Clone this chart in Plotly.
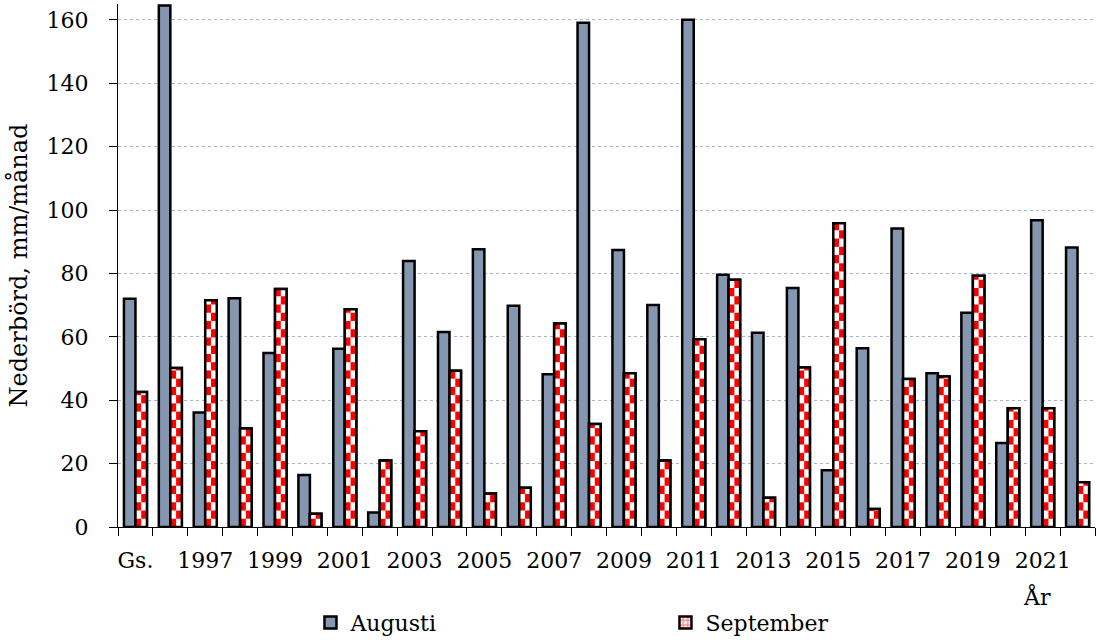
import plotly.graph_objects as go

# Monthly precipitation (mm) for August and September; "Gs." is the long-term mean
years = ["Gs.", "1996", "1997", "1998", "1999", "2000", "2001", "2002", "2003",
         "2004", "2005", "2006", "2007", "2008", "2009", "2010", "2011", "2012",
         "2013", "2014", "2015", "2016", "2017", "2018", "2019", "2020", "2021",
         "2022"]
augusti = [72.0, 164.5, 36.1, 72.2, 54.9, 16.4, 56.2, 4.6, 83.9, 61.5, 87.6,
           69.8, 48.2, 159.1, 87.4, 70.0, 160.0, 79.6, 61.3, 75.4, 17.9, 56.4,
           94.2, 48.5, 67.6, 26.5, 96.8, 88.2]
september = [42.6, 50.2, 71.5, 31.1, 75.1, 4.2, 68.7, 21.0, 30.2, 49.3, 10.6,
             12.4, 64.2, 32.5, 48.5, 21.0, 59.2, 78.0, 9.2, 50.3, 95.8, 5.7,
             46.7, 47.5, 79.3, 37.5, 37.5, 14.1]
tick_labels = [y if i % 2 == 0 else "" for i, y in enumerate(years)]
y_ticks = [0, 20, 40, 60, 80, 100, 120, 140, 160]

FONT = "DejaVu Serif"
AUG_COLOR = "#8496B0"
RED = "#FF0000"
BAR_W = 0.33          # bar width in category units
LINE_W = 2.5
CHECK_H = 2.6         # checker block height in data units

# red/white checkerboard blocks for the September bars (two columns per bar)
cols = {0: {"x": [], "base": [], "h": []}, 1: {"x": [], "base": [], "h": []}}
for yr, v in zip(years, september):
    k = 0
    while k * CHECK_H < v:
        lo = k * CHECK_H
        hi = min((k + 1) * CHECK_H, v)
        c = k % 2
        cols[c]["x"].append(yr)
        cols[c]["base"].append(lo)
        cols[c]["h"].append(hi - lo)
        k += 1

fig = go.Figure()

fig.add_trace(go.Bar(
    x=years, y=augusti, name="Augusti",
    width=BAR_W, offset=-BAR_W,
    marker=dict(color=AUG_COLOR, line=dict(color="black", width=LINE_W)),
))

# September: patterned body (legend swatch), white fill, checker blocks, outline
fig.add_trace(go.Bar(
    x=years, y=september, name="September",
    width=BAR_W, offset=0,
    marker=dict(color="white", line=dict(color="black", width=LINE_W),
                pattern=dict(shape="+", fgcolor=RED, bgcolor="white",
                             size=6, solidity=0.5)),
))
fig.add_trace(go.Bar(
    x=years, y=september, showlegend=False,
    width=BAR_W, offset=0,
    marker=dict(color="white", line=dict(width=0)),
))
for c in (0, 1):
    fig.add_trace(go.Bar(
        x=cols[c]["x"], y=cols[c]["h"], base=cols[c]["base"], showlegend=False,
        width=BAR_W / 2, offset=c * BAR_W / 2,
        marker=dict(color=RED, line=dict(width=0)),
    ))
fig.add_trace(go.Bar(
    x=years, y=september, showlegend=False,
    width=BAR_W, offset=0,
    marker=dict(color="rgba(0,0,0,0)", line=dict(color="black", width=LINE_W)),
))

fig.update_layout(
    width=1097, height=643,
    margin=dict(l=118, r=2, t=4, b=116, autoexpand=False),
    barmode="overlay",
    plot_bgcolor="white", paper_bgcolor="white",
    font=dict(family=FONT, size=22, color="black"),
    showlegend=True,
    legend=dict(orientation="h", x=0.197, y=-0.143, xanchor="left", yanchor="top",
                entrywidth=310, entrywidthmode="pixels",
                font=dict(family=FONT, size=22), bgcolor="rgba(0,0,0,0)"),
    annotations=[dict(text="År", xref="paper", yref="paper", x=0.9406, y=-0.133,
                      xanchor="center", yanchor="middle", showarrow=False,
                      font=dict(family=FONT, size=22))],
)

fig.update_xaxes(
    type="category", categoryorder="array", categoryarray=years,
    range=[-0.5, len(years) - 0.5],
    tickmode="array", tickvals=years, ticktext=tick_labels,
    tickson="boundaries", ticks="outside", ticklen=8, tickcolor="black",
    ticklabelstandoff=14,
    showline=True, linecolor="black", linewidth=1,
    showgrid=False, tickangle=0,
)
fig.update_yaxes(
    range=[0, 165], tickvals=y_ticks,
    ticks="outside", ticklen=8, tickcolor="black", ticklabelstandoff=16,
    showline=True, linecolor="black", linewidth=1,
    showgrid=True, gridcolor="#A6B4CE", gridwidth=1, griddash="dot",
    zeroline=False,
    title=dict(text="Nederbörd, mm/månad", font=dict(family=FONT, size=24),
               standoff=12),
)

fig.write_html("out.html")
